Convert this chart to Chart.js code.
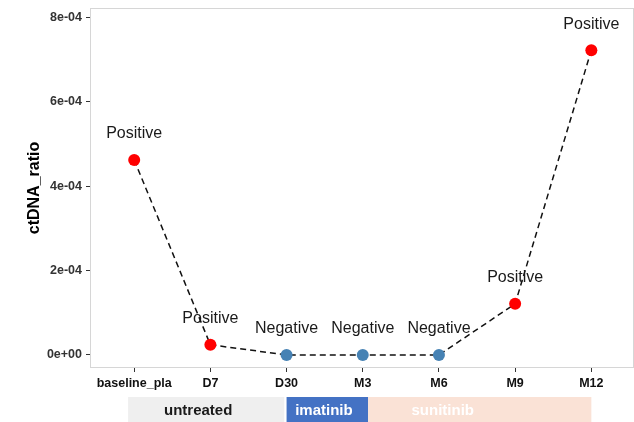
<!DOCTYPE html>
<html>
<head>
<meta charset="utf-8">
<script src="https://cdn.jsdelivr.net/npm/chart.js@4"></script>
<style>
  html, body { margin: 0; padding: 0; background: #fff; }
  #wrap { width: 634px; height: 422px; }
</style>
</head>
<body>
<div id="wrap"><canvas id="c" width="634" height="422"></canvas></div>
<script>
const timepoints = ['baseline_pla', 'D7', 'D30', 'M3', 'M6', 'M9', 'M12'];
const ctdnaRatio = [4.62e-4, 2.4e-5, 0, 0, 0, 1.21e-4, 7.22e-4];
const status = ['Positive', 'Positive', 'Negative', 'Negative', 'Negative', 'Positive', 'Positive'];
const yTicks = [0, 2e-4, 4e-4, 6e-4, 8e-4];

// treatment phases, in timepoint index units
const phaseNames = ['untreated', 'imatinib', 'sunitinib'];
const phaseStart = [-0.08, 2.0, 3.07];
const phaseEnd = [1.97, 3.07, 6.0];
const phaseLabelAt = [0.84, 2.49, 4.05];

const statusColor = { Positive: '#ff0000', Negative: '#4682b4' };
const phaseFill = ['#efefef', '#4472c4', '#fae2d6'];
const phaseText = ['#1a1a1a', '#ffffff', '#ffffff'];
const FONT = '"Liberation Sans", Arial, sans-serif';

function sci(v) {
  if (v === 0) return '0e+00';
  const e = Math.floor(Math.log10(Math.abs(v)) + 1e-9);
  const m = Math.round(v / Math.pow(10, e));
  const es = (e < 0 ? '-' : '+') + String(Math.abs(e)).padStart(2, '0');
  return m + 'e' + es;
}

// labels above points, panel border, treatment strip
const extras = {
  id: 'extras',
  afterDatasetsDraw(chart) {
    const { ctx, chartArea: a, scales } = chart;
    ctx.save();
    ctx.strokeStyle = '#d6d6d6';
    ctx.lineWidth = 1;
    ctx.strokeRect(a.left + 0.5, a.top + 0.5, a.right - a.left - 1, a.bottom - a.top - 1);

    ctx.font = '16px ' + FONT;
    ctx.fillStyle = '#1a1a1a';
    ctx.textAlign = 'center';
    ctx.textBaseline = 'middle';
    const meta = chart.getDatasetMeta(0);
    meta.data.forEach((pt, i) => {
      ctx.fillText(status[i], pt.x, pt.y - 26);
    });

    const x = scales.x;
    const top = a.bottom + 29;
    const h = 26;
    phaseNames.forEach((name, i) => {
      const x0 = x.getPixelForValue(phaseStart[i]);
      const x1 = x.getPixelForValue(phaseEnd[i]);
      ctx.fillStyle = phaseFill[i];
      ctx.fillRect(x0, top, x1 - x0, h);
    });
    ctx.font = 'bold 15px ' + FONT;
    phaseNames.forEach((name, i) => {
      ctx.fillStyle = phaseText[i];
      ctx.fillText(name, x.getPixelForValue(phaseLabelAt[i]), top + h / 2 + 1);
    });
    ctx.restore();
  }
};

new Chart(document.getElementById('c'), {
  type: 'line',
  data: {
    datasets: [{
      data: ctdnaRatio.map((v, i) => ({ x: i, y: v })),
      borderColor: '#111',
      borderWidth: 1.5,
      borderDash: [6, 4],
      pointRadius: 6,
      pointHoverRadius: 6,
      pointBorderWidth: 0,
      pointBackgroundColor: status.map((s) => statusColor[s]),
      tension: 0,
      clip: false
    }]
  },
  options: {
    responsive: false,
    animation: false,
    events: [],
    layout: { autoPadding: false, padding: { top: 8, right: 0, bottom: 0, left: 0 } },
    plugins: { legend: { display: false }, tooltip: { enabled: false } },
    scales: {
      x: {
        type: 'linear',
        min: -0.58,
        max: 6.56,
        afterBuildTicks: (s) => { s.ticks = timepoints.map((_, i) => ({ value: i })); },
        afterFit: (s) => { s.height = 54; s.paddingLeft = 0; s.paddingRight = 0; },
        border: { display: false },
        grid: { drawOnChartArea: false, drawTicks: true, tickLength: 4, color: '#333' },
        ticks: {
          color: '#111',
          padding: 4,
          maxRotation: 0,
          autoSkip: false,
          font: { family: FONT, size: 12.5, weight: 'bold' },
          callback: (v) => timepoints[v]
        }
      },
      y: {
        min: -3.1e-5,
        max: 8.22e-4,
        afterBuildTicks: (s) => { s.ticks = yTicks.map((v) => ({ value: v })); },
        afterFit: (s) => { s.width = 90; s.paddingTop = 0; s.paddingBottom = 0; },
        border: { display: false },
        grid: { drawOnChartArea: false, drawTicks: true, tickLength: 4, color: '#333' },
        title: {
          display: true,
          text: 'ctDNA_ratio',
          color: '#000',
          padding: { top: 25, bottom: 0 },
          font: { family: FONT, size: 16, weight: 'bold' }
        },
        ticks: {
          color: '#333',
          padding: 4,
          font: { family: FONT, size: 12.5, weight: 'bold' },
          callback: (v) => sci(v)
        }
      }
    }
  },
  plugins: [extras]
});
</script>
</body>
</html>
